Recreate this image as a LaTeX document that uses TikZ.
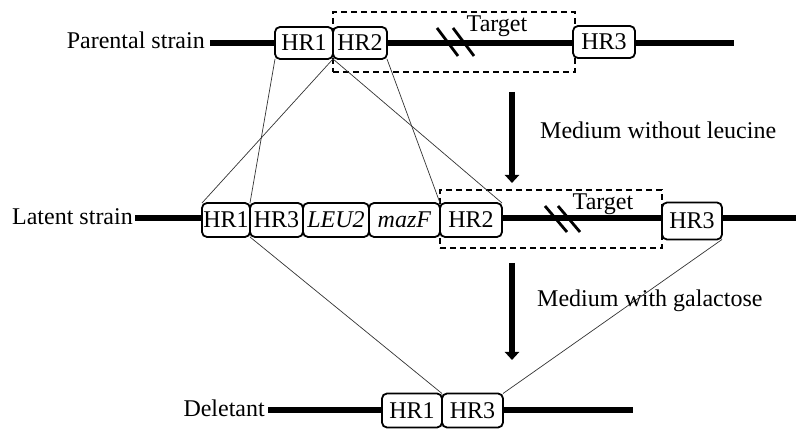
\documentclass[tikz,border=0pt]{standalone}
\usepackage{fontspec}
\setmainfont{Liberation Serif}
\usetikzlibrary{arrows.meta,positioning}

\begin{document}
\begin{tikzpicture}[x=1pt,y=1pt]
\tikzstyle{every node}+=[inner sep=0pt, font=\fontsize{24}{27}\selectfont]
\tikzstyle{gene}=[draw, rounded corners=5pt, line width=1.8pt, fill=white, outer sep=0pt, minimum height=34pt]
\tikzstyle{region}=[draw, line width=1.8pt, dash pattern=on 6pt off 4pt, outer sep=0pt]
\tikzstyle{chrom}=[line width=6.5pt]
\tikzstyle{cut}=[line width=2.8pt]
\tikzstyle{homol}=[line width=0.7pt, black!80]
\tikzstyle{stepline}=[line width=6pt, -{Triangle[width=14pt,length=8pt]}]
\useasboundingbox (0,0) rectangle (796,-430);

% target regions
\node[region, minimum width=242pt, minimum height=60pt] (tgt1) at (454,-42) {};
\node[region, minimum width=222pt, minimum height=58pt] (tgt2) at (551,-219) {};

% chromosomes
\coordinate (parL) at (210,-43);
\coordinate (parR) at (734,-43);
\coordinate (latL) at (135,-218);
\coordinate (latR) at (796,-218);
\coordinate (delL) at (268,-410);
\coordinate (delR) at (633,-410);
\draw[chrom] (parL) -- (parR);
\draw[chrom] (latL) -- (latR);
\draw[chrom] (delL) -- (delR);

% breaks
\coordinate (brk1) at (447,-42);
\coordinate (brk2) at (556,-219);
\foreach \dx in {0,16} \draw[cut] ([xshift=\dx]brk1) ++(-10,14) -- ++(21,-28);
\foreach \dx in {0,13} \draw[cut] ([xshift=\dx]brk2) ++(-11,13) -- ++(22,-26);

% parental strain
\node[gene, minimum width=58pt, minimum height=32pt] (p1) at (304,-43) {HR1};
\node[gene, minimum width=54pt, minimum height=32pt, right=0pt of p1] (p2) {HR2};
\node[gene, minimum width=62pt, minimum height=32pt] (p3) at (604,-42) {HR3};

% latent strain
\node[gene, minimum width=48pt] (l1) at (226,-220) {HR1};
\node[gene, minimum width=53pt, right=0pt of l1] (l2) {HR3};
\node[gene, minimum width=66pt, right=0pt of l2] (l3) {\textit{LEU2}};
\node[gene, minimum width=71pt, right=0pt of l3] (l4) {\textit{mazF}};
\node[gene, minimum width=62pt, right=0pt of l4] (l5) {HR2};
\node[gene, minimum width=60pt, minimum height=37pt] (l6) at (692,-221) {HR3};

% deletant
\node[gene, minimum width=60pt] (d1) at (412,-410.5) {HR1};
\node[gene, minimum width=61pt, right=0pt of d1] (d2) {HR3};

% homologous pairs
\draw[homol] (p1.south west) -- (l2.north west);
\draw[homol] (p2.south west) -- (l1.north west);
\draw[homol] (p2.south west) -- (l5.north east);
\draw[homol] (p2.south east) -- (l5.north west);
\draw[homol] (l2.south west) -- (d2.north west);
\draw[homol] (l6.south east) -- (d2.north east);

% labels
\node[anchor=base east] (parlab) at (205,-49) {Parental strain};
\node[anchor=base east] (latlab) at (133,-225) {Latent strain};
\node[anchor=base east] (dellab) at (265,-417) {Deletant};
\node[anchor=base] (tgtlab1) at (497,-32) {Target};
\node[anchor=base] (tgtlab2) at (603,-210) {Target};

% selection steps
\coordinate (s1a) at (512,-92);
\coordinate (s1b) at (512,-183);
\coordinate (s2a) at (512,-263);
\coordinate (s2b) at (512,-360);
\draw[stepline] (s1a) -- (s1b);
\draw[stepline] (s2a) -- (s2b);
\node[anchor=base west] (med1) at (540,-139) {Medium without leucine};
\node[anchor=base west] (med2) at (537,-307) {Medium with galactose};
\end{tikzpicture}
\end{document}
